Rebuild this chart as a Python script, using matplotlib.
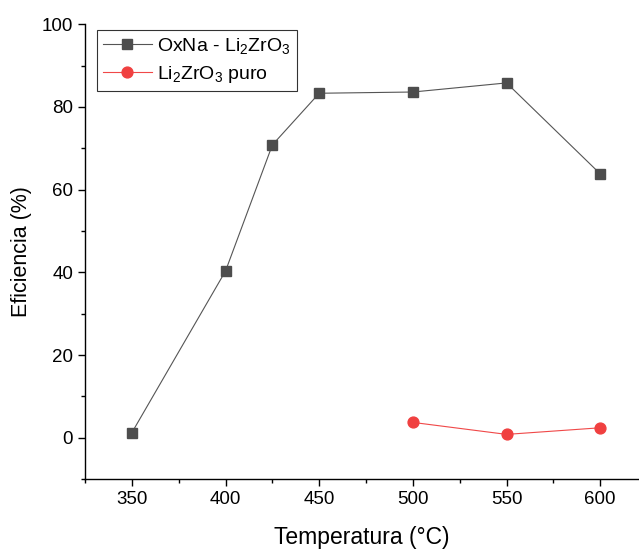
import matplotlib
matplotlib.use("Agg")
import matplotlib.pyplot as plt
from matplotlib.ticker import MultipleLocator

plt.rcParams['font.family'] = ['Liberation Sans', 'DejaVu Sans']
plt.rcParams['mathtext.fontset'] = 'custom'
plt.rcParams['mathtext.rm'] = 'Liberation Sans'
plt.rcParams['mathtext.it'] = 'Liberation Sans'

temp_oxna = [350, 400, 425, 450, 500, 550, 600]
eff_oxna = [1.2, 40.3, 70.8, 83.3, 83.6, 85.8, 63.8]
temp_puro = [500, 550, 600]
eff_puro = [3.7, 0.8, 2.4]

fig = plt.figure(figsize=(6.39, 5.5), dpi=100)
ax = fig.add_axes([0.133, 0.129, 0.865, 0.827])

ax.plot(temp_oxna, eff_oxna, color='#555555', lw=0.8, marker='s', ms=7.3,
        mfc='#4d4d4d', mec='#4d4d4d', label=r'OxNa - Li$_2$ZrO$_3$')
ax.plot(temp_puro, eff_puro, color='#f04848', lw=0.8, marker='o', ms=7.8,
        mfc='#f04040', mec='#f04040', label=r'Li$_2$ZrO$_3$ puro')

ax.set_xlim(325, 620)
ax.set_ylim(-10, 100)
ax.xaxis.set_major_locator(MultipleLocator(50))
ax.xaxis.set_minor_locator(MultipleLocator(25))
ax.yaxis.set_major_locator(MultipleLocator(20))
ax.yaxis.set_minor_locator(MultipleLocator(10))
ax.tick_params(which='both', direction='out', labelsize=13.5, width=1)
ax.tick_params(which='major', length=5)
ax.tick_params(which='minor', length=3)
for s in ['top', 'right']:
    ax.spines[s].set_visible(False)
for s in ['left', 'bottom']:
    ax.spines[s].set_linewidth(1)

ax.set_xlabel('Temperatura (°C)', fontsize=16.5, labelpad=13)
ax.set_ylabel('Eficiencia (%)', fontsize=15.5, labelpad=7)

leg = ax.legend(loc='upper left', bbox_to_anchor=(0.015, 0.995), fontsize=14,
                frameon=True, fancybox=False, edgecolor='black',
                handlelength=2.5, handletextpad=0.3, borderpad=0.3,
                labelspacing=0.4, borderaxespad=0.2)
leg.get_frame().set_linewidth(0.8)

fig.savefig('out.png', dpi=100)
